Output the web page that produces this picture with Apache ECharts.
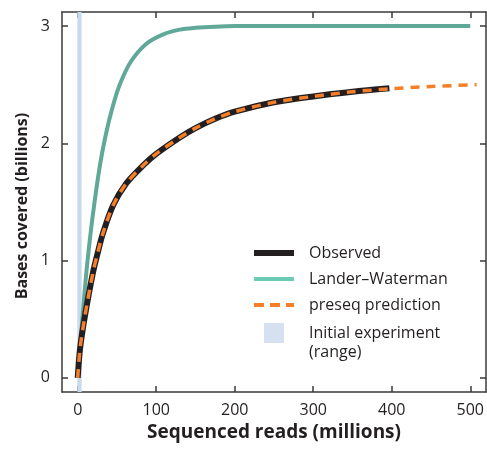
<!DOCTYPE html>
<html>
<head>
<meta charset="utf-8">
<script src="https://cdn.jsdelivr.net/npm/echarts@6/dist/echarts.min.js"></script>
<style>
html, body { margin: 0; padding: 0; background: #fff; }
#chart { width: 487px; height: 449px; }
</style>
</head>
<body>
<div id="chart"></div>
<script>
// values: x in millions of reads, y in billions of bases
const observedX = [0, 3, 9, 19.5, 26, 32, 45, 62, 83, 100, 130, 150, 175, 200, 250, 300, 350, 397]
const observedY = [0, 0.25, 0.52, 0.9, 1.08, 1.23, 1.47, 1.66, 1.81, 1.91, 2.05, 2.13, 2.21, 2.27, 2.35, 2.40, 2.44, 2.47]
const landerX = [0, 2, 5, 9, 13, 19.5, 28, 36, 44, 53.5, 68, 87.5, 109, 130, 150, 175, 200, 300, 400, 500]
const landerY = [0, 0.17, 0.42, 0.75, 1.03, 1.40, 1.80, 2.08, 2.30, 2.50, 2.70, 2.85, 2.93, 2.97, 2.985, 2.995, 3.0, 3.0, 3.0, 3.0]
const preseqX = [0, 3, 9, 19.5, 26, 32, 45, 62, 83, 100, 130, 150, 175, 200, 250, 300, 350, 397, 450, 508]
const preseqY = [0, 0.25, 0.52, 0.9, 1.08, 1.23, 1.47, 1.66, 1.81, 1.91, 2.05, 2.13, 2.21, 2.27, 2.35, 2.40, 2.44, 2.465, 2.485, 2.50]
const initialRange = [-0.5, 5]
const xTicks = [0, 100, 200, 300, 400, 500]
const yTicks = [0, 1, 2, 3]

const pairs = (xs, ys) => xs.map((x, i) => [x, ys[i]])

const font = '"Open Sans", "Noto Sans", sans-serif'
const ink = '#231f20'
const axisColor = '#3a3a3a'

let chart = echarts.init(document.getElementById('chart'))

const axisBase = {
	type: 'value',
	axisLine: { show: true, onZero: false, lineStyle: { color: axisColor, width: 1.5 } },
	axisTick: { show: true, inside: true, length: 6, lineStyle: { color: axisColor, width: 1.5 } },
	splitLine: { show: false },
}

// line icons in the legend: only the stroke, no symbol
const noSymbol = { opacity: 0 }

let option = {
	animation: false,
	grid: { left: 62, right: 1, top: 12, bottom: 57 },
	xAxis: [
		{
			...axisBase,
			position: 'bottom',
			min: -20,
			max: 520,
			axisTick: { ...axisBase.axisTick, customValues: xTicks },
			axisLabel: { customValues: xTicks, color: ink, fontSize: 16, fontFamily: font, margin: 10 },
			name: 'Sequenced reads (millions)',
			nameLocation: 'middle',
			nameGap: 31,
			nameTextStyle: { color: ink, fontSize: 19, fontWeight: 'bold', fontFamily: font },
		},
		{
			...axisBase,
			position: 'top',
			min: -20,
			max: 520,
			axisTick: { ...axisBase.axisTick, customValues: xTicks },
			axisLabel: { show: false },
		},
	],
	yAxis: [
		{
			...axisBase,
			position: 'left',
			min: -0.12,
			max: 3.12,
			axisTick: { ...axisBase.axisTick, customValues: yTicks },
			axisLabel: { customValues: yTicks, color: ink, fontSize: 16, fontFamily: font, margin: 12 },
			name: 'Bases covered (billions)',
			nameLocation: 'middle',
			nameGap: 30,
			nameTextStyle: { color: ink, fontSize: 16, fontWeight: 'bold', fontFamily: font, padding: [0, 8, 0, 0] },
		},
		{
			...axisBase,
			position: 'right',
			min: -0.12,
			max: 3.12,
			axisTick: { ...axisBase.axisTick, customValues: yTicks },
			axisLabel: { show: false },
		},
	],
	legend: {
		orient: 'vertical',
		left: 251,
		top: 245,
		padding: 0,
		itemWidth: 40,
		itemHeight: 20,
		itemGap: 10,
		textStyle: { color: ink, fontSize: 16, fontFamily: font, padding: [0, 0, 0, 10] },
		data: [
			{ name: 'Observed', icon: 'inherit', itemStyle: noSymbol, lineStyle: { width: 6 } },
			{ name: 'Lander–Waterman', icon: 'inherit', itemStyle: noSymbol, lineStyle: { color: '#6ccbb7', width: 4 } },
			{ name: 'preseq prediction', icon: 'inherit', itemStyle: noSymbol, lineStyle: { width: 4, type: [10, 6] } },
			{
				name: 'Initial experiment',
				icon: 'path://M0,0L1,0L1,1L0,1Z',
				itemStyle: { color: '#cadaee' },
			},
		],
	},
	graphic: [
		{
			type: 'text',
			left: 309,
			top: 344,
			style: { text: '(range)', fill: ink, font: '16px ' + font },
		},
	],
	series: [
		{
			name: 'Initial experiment',
			type: 'scatter',
			data: [],
			itemStyle: { color: '#cadaee' },
			markArea: {
				silent: true,
				itemStyle: { color: '#cadaee' },
				data: [[{ xAxis: initialRange[0] }, { xAxis: initialRange[1] }]],
			},
			z: 1,
		},
		{
			name: 'Lander–Waterman',
			type: 'line',
			data: pairs(landerX, landerY),
			smooth: 0.3,
			symbol: 'none',
			lineStyle: { color: '#60a898', width: 4 },
			itemStyle: { color: '#60a898' },
			z: 2,
		},
		{
			name: 'Observed',
			type: 'line',
			data: pairs(observedX, observedY),
			smooth: 0.3,
			symbol: 'none',
			lineStyle: { color: ink, width: 6 },
			itemStyle: { color: ink },
			z: 3,
		},
		{
			name: 'preseq prediction',
			type: 'line',
			data: pairs(preseqX, preseqY),
			smooth: 0.3,
			symbol: 'none',
			lineStyle: { color: '#f47f2a', width: 3.5, type: [9, 7] },
			itemStyle: { color: '#f47f2a' },
			z: 4,
		},
	],
}

chart.setOption(option)
</script>
</body>
</html>
